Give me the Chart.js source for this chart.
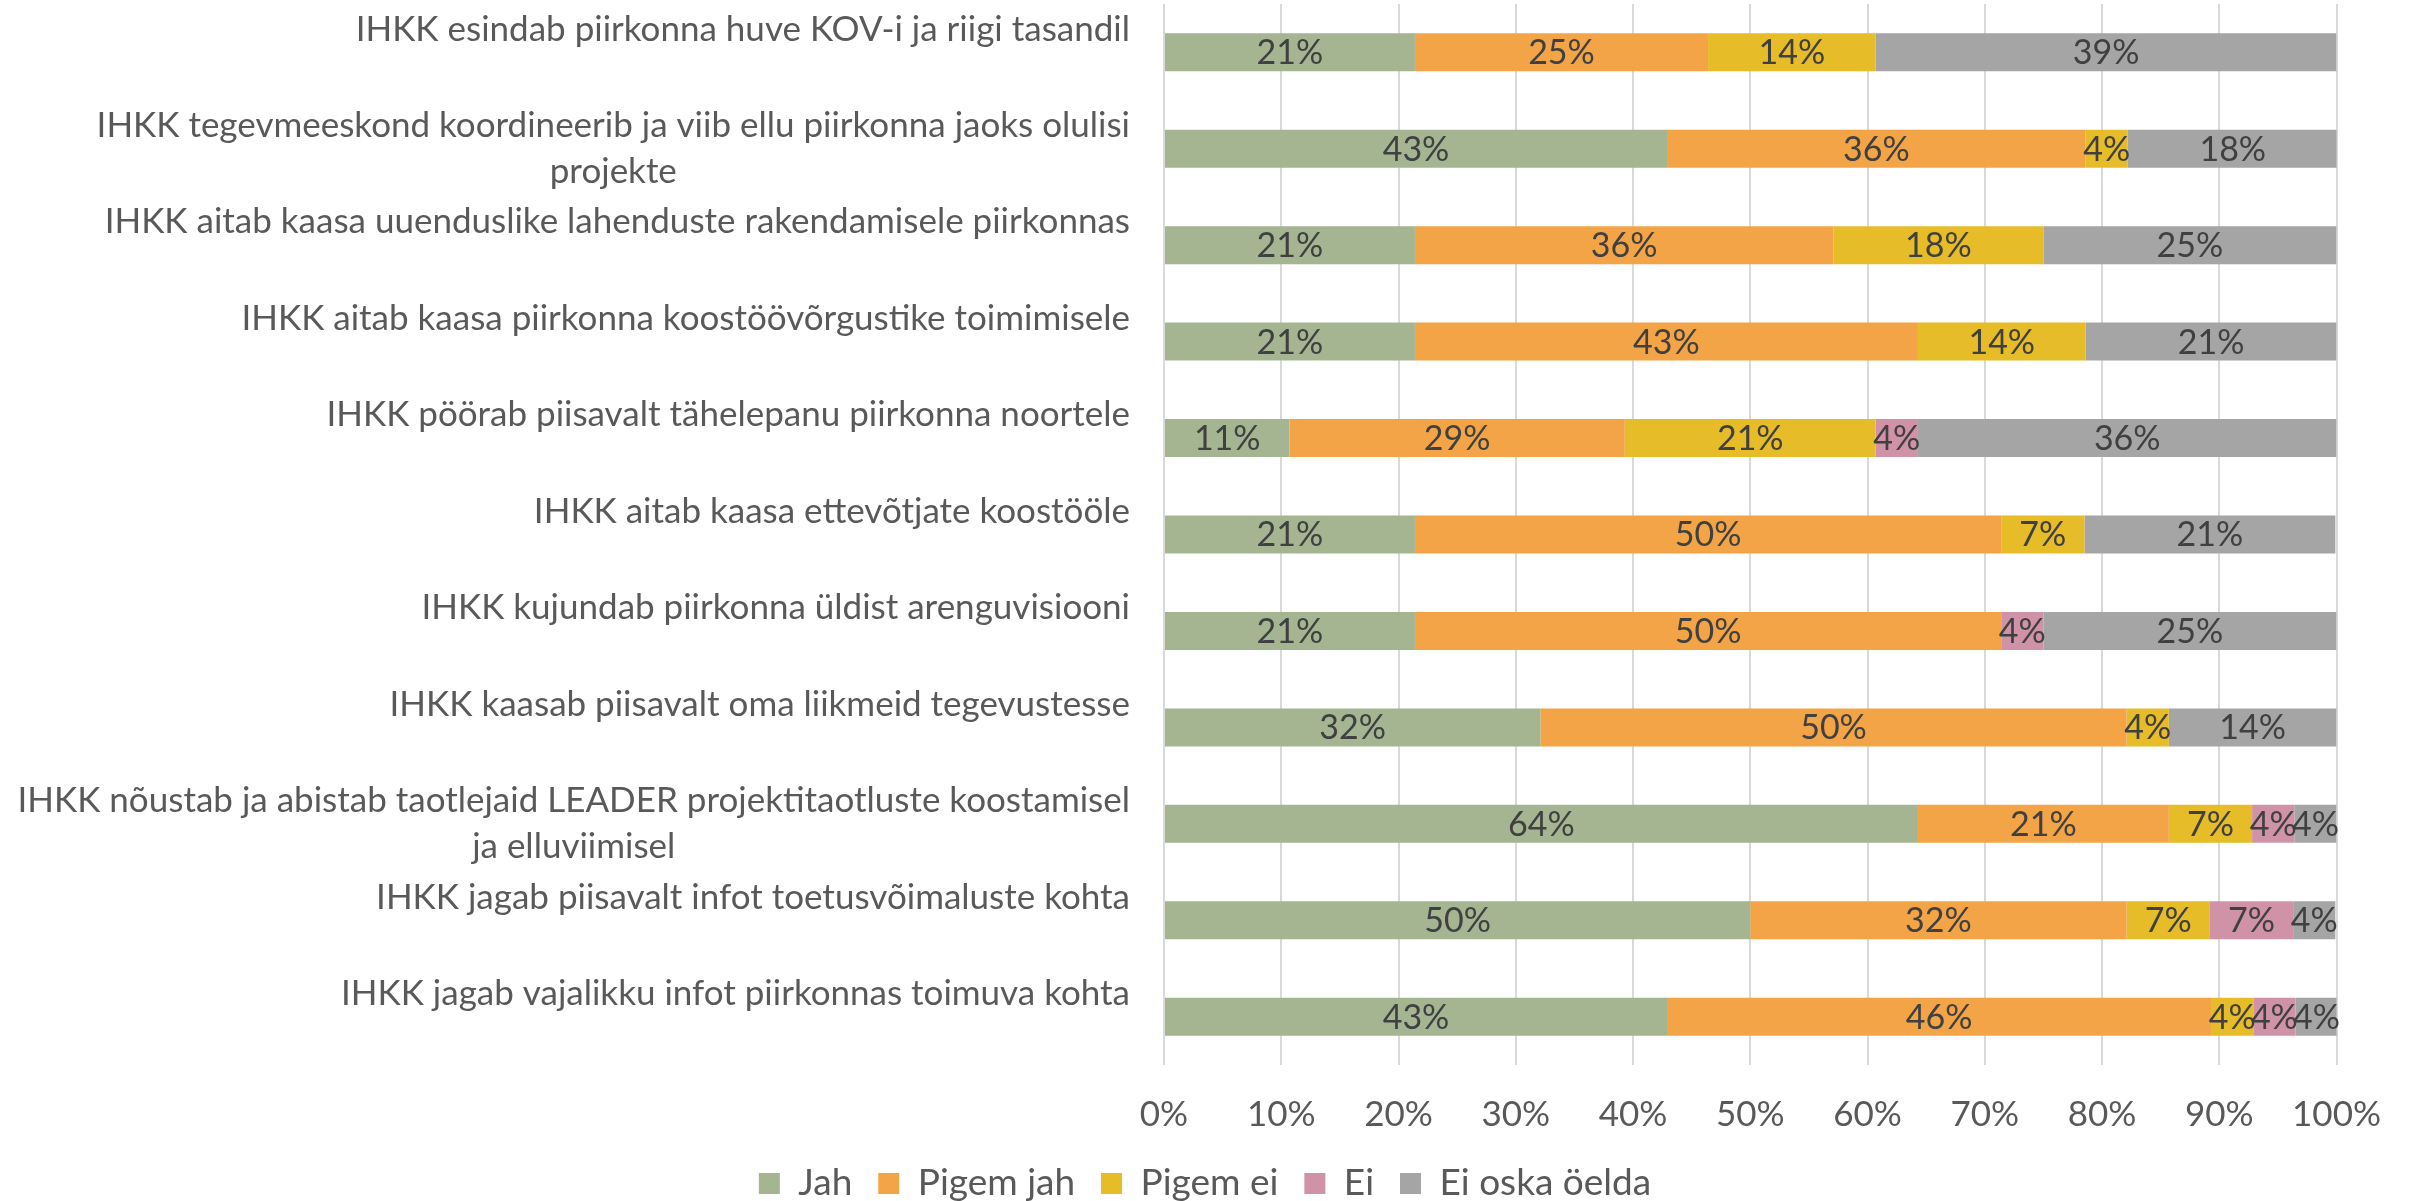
<!DOCTYPE html>
<html>
<head>
<meta charset="utf-8">
<script src="https://cdn.jsdelivr.net/npm/chart.js@4.4.0/dist/chart.umd.min.js"></script>
<style>
  body { margin: 0; background: #fff; overflow: hidden; }
</style>
</head>
<body>
<canvas id="chart" width="2410" height="1201"></canvas>
<script>
/* IHKK hinnangud - 100% tulpdiagramm */

let categories = [
    'IHKK esindab piirkonna huve KOV-i ja riigi tasandil',
    ['IHKK tegevmeeskond koordineerib ja viib ellu piirkonna jaoks olulisi', 'projekte'],
    'IHKK aitab kaasa uuenduslike lahenduste rakendamisele piirkonnas',
    'IHKK aitab kaasa piirkonna koostöövõrgustike toimimisele',
    'IHKK pöörab piisavalt tähelepanu piirkonna noortele',
    'IHKK aitab kaasa ettevõtjate koostööle',
    'IHKK kujundab piirkonna üldist arenguvisiooni',
    'IHKK kaasab piisavalt oma liikmeid tegevustesse',
    ['IHKK nõustab ja abistab taotlejaid LEADER projektitaotluste koostamisel', 'ja elluviimisel'],
    'IHKK jagab piisavalt infot toetusvõimaluste kohta',
    'IHKK jagab vajalikku infot piirkonnas toimuva kohta'
];

let jah       = [21.4, 42.9, 21.4, 21.4, 10.7, 21.4, 21.4, 32.1, 64.3, 50.0, 42.9];
let pigemJah  = [25.0, 35.7, 35.7, 42.9, 28.6, 50.0, 50.0, 50.0, 21.4, 32.1, 46.4];
let pigemEi   = [14.3, 3.6, 17.9, 14.3, 21.4, 7.1, 0, 3.6, 7.1, 7.1, 3.6];
let ei        = [0, 0, 0, 0, 3.6, 0, 3.6, 0, 3.6, 7.1, 3.6];
let eiOska    = [39.3, 17.9, 25.0, 21.4, 35.7, 21.4, 25.0, 14.3, 3.6, 3.6, 3.6];

let xTicks = [0, 10, 20, 30, 40, 50, 60, 70, 80, 90, 100];

const FONT = 'Lato';

// silt iga tulba keskele
const barLabels = {
    id: 'barLabels',
    afterDatasetsDraw(chart) {
        const ctx = chart.ctx;
        ctx.save();
        ctx.font = '34px ' + FONT;
        ctx.fillStyle = '#404040';
        ctx.textAlign = 'center';
        ctx.textBaseline = 'middle';
        chart.data.datasets.forEach((ds, d) => {
            chart.getDatasetMeta(d).data.forEach((el, i) => {
                const v = ds.data[i];
                if (!v) return;
                ctx.fillText(Math.round(v) + '%', (el.x + el.base) / 2, el.y + 1);
            });
        });
        ctx.restore();
    }
};

// kategooriate nimed vasakul (read keskele joondatud nagu Excelis)
const categoryLabels = {
    id: 'categoryLabels',
    afterDraw(chart) {
        const ctx = chart.ctx;
        const yScale = chart.scales.y;
        const right = chart.chartArea.left - 34;
        const lineH = 46;
        ctx.save();
        ctx.font = '35px ' + FONT;
        ctx.fillStyle = '#595959';
        ctx.textAlign = 'center';
        ctx.textBaseline = 'middle';
        chart.data.labels.forEach((lab, i) => {
            const lines = Array.isArray(lab) ? lab : [lab];
            const maxW = Math.max(...lines.map(l => ctx.measureText(l).width));
            const cy = yScale.getPixelForValue(i);
            lines.forEach((line, j) => {
                ctx.fillText(line, right - maxW / 2, cy + (j - 0.5) * lineH);
            });
        });
        ctx.restore();
    }
};

const config = {
    type: 'bar',
    data: {
        labels: categories,
        datasets: [
            { label: 'Jah', data: jah, backgroundColor: '#A5B592' },
            { label: 'Pigem jah', data: pigemJah, backgroundColor: '#F3A447' },
            { label: 'Pigem ei', data: pigemEi, backgroundColor: '#E7BC29' },
            { label: 'Ei', data: ei, backgroundColor: '#D092A7' },
            { label: 'Ei oska öelda', data: eiOska, backgroundColor: '#A5A5A5' }
        ]
    },
    options: {
        indexAxis: 'y',
        responsive: false,
        animation: false,
        datasets: {
            bar: {
                categoryPercentage: 1,
                barPercentage: 0.394,
                borderWidth: 0
            }
        },
        layout: {
            padding: { left: 0, right: 0, top: 4, bottom: 0 }
        },
        scales: {
            x: {
                stacked: true,
                min: 0,
                max: 100,
                afterBuildTicks: s => { s.ticks = xTicks.map(v => ({ value: v })); },
                afterFit: s => { s.height = 74; },
                grid: { color: '#d9d9d9', lineWidth: 2, drawTicks: false },
                border: { display: false },
                ticks: {
                    padding: 29,
                    color: '#595959',
                    font: { family: FONT, size: 35 },
                    callback: v => v + '%'
                }
            },
            y: {
                stacked: true,
                afterFit: s => { s.width = 1164; },
                grid: { display: false },
                border: { display: false },
                ticks: { display: false }
            },
            // tühi parem serv, et legend jääks kogu laiuse keskele
            yRight: {
                type: 'linear',
                axis: 'y',
                position: 'right',
                afterFit: s => { s.width = 72; },
                grid: { display: false },
                border: { display: false },
                ticks: { display: false }
            }
        },
        plugins: {
            legend: {
                display: true,
                position: 'bottom',
                maxHeight: 62,
                labels: {
                    boxWidth: 21,
                    boxHeight: 21,
                    padding: 26,
                    color: '#595959',
                    font: { family: FONT, size: 37 }
                }
            },
            tooltip: { enabled: false }
        }
    },
    plugins: [barLabels, categoryLabels]
};

const myChart = new Chart(document.getElementById('chart'), config);
</script>
</body>
</html>
